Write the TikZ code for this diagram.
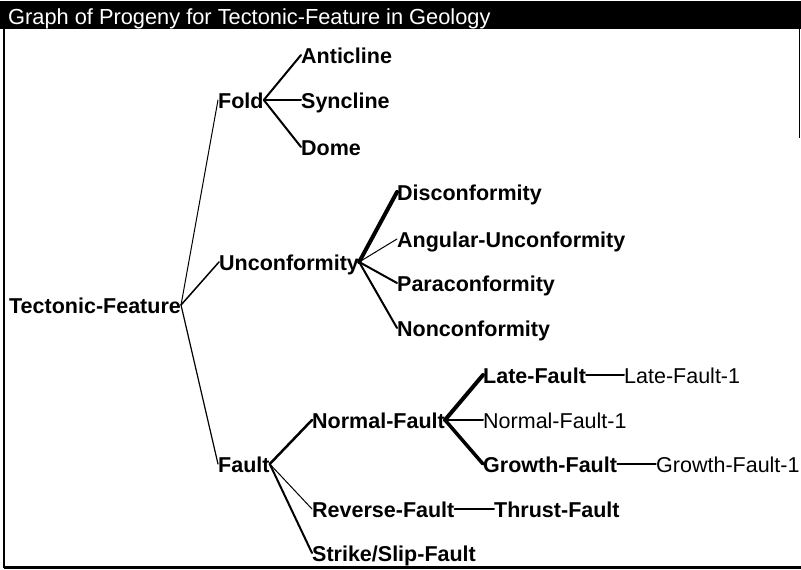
\documentclass[tikz,border=0pt]{standalone}
\usepackage{fontspec}
\setmainfont{Liberation Sans}
\begin{document}
\begin{tikzpicture}[x=1pt,y=-1pt,
  lbl/.style={inner sep=0pt, anchor=base west, text height=16pt, text depth=0pt,
    font=\fontsize{21.5}{24}\selectfont\bfseries},
  lblr/.style={lbl, font=\fontsize{21.5}{24}\selectfont},
  edge/.style={line width=#1, line cap=round},
]
\useasboundingbox (0,0) rectangle (801,570);
% window frame
\fill[black] (0,1) rectangle (801,29);
\node[inner sep=0pt, anchor=base west, text=white, font=\fontsize{21.8}{24}\selectfont] (title) at (8,24) {Graph of Progeny for Tectonic-Feature in Geology};
\coordinate (fl1) at (4,29);
\coordinate (fl2) at (4,568);
\coordinate (fb1) at (4,567.5);
\coordinate (fb2) at (801,567.5);
\coordinate (fr1) at (799,29);
\coordinate (fr2) at (799,138);
\draw[line width=2.5pt] (fl1) -- (fl2);
\draw[line width=3pt] (fb1) -- (fb2);
\draw[line width=1pt] (fr1) -- (fr2);
% nodes
\node[lbl] (tf) at (9,313) {Tectonic-Feature};
\node[lbl] (fold) at (218,108) {Fold};
\node[lbl] (unc) at (219,270) {Unconformity};
\node[lbl] (fault) at (218,472) {Fault};
\node[lbl] (anti) at (301,63) {Anticline};
\node[lbl] (sync) at (301,108) {Syncline};
\node[lbl] (dome) at (301,155) {Dome};
\node[lbl] (disc) at (397,200) {Disconformity};
\node[lbl] (ang) at (397,247) {Angular-Unconformity};
\node[lbl] (para) at (397,291) {Paraconformity};
\node[lbl] (nonc) at (397,336) {Nonconformity};
\node[lbl] (norm) at (312,428) {Normal-Fault};
\node[lbl] (rev) at (312,517) {Reverse-Fault};
\node[lbl] (strike) at (312,561) {Strike/Slip-Fault};
\node[lbl] (late) at (483,383) {Late-Fault};
\node[lblr] (norm1) at (483,428) {Normal-Fault-1};
\node[lbl] (grow) at (483,472) {Growth-Fault};
\node[lblr] (late1) at (624,383) {Late-Fault-1};
\node[lblr] (grow1) at (656,472) {Growth-Fault-1};
\node[lbl] (thrust) at (494,517) {Thrust-Fault};
% connectors
\draw[edge=1pt] (tf.east) -- (fold.west);
\draw[edge=1.5pt] (tf.east) -- (unc.west);
\draw[edge=1.2pt] (tf.east) -- (fault.west);
\draw[edge=2pt] (fold.east) -- (anti.west);
\draw[edge=2pt] (fold.east) -- (sync.west);
\draw[edge=2pt] (fold.east) -- (dome.west);
\draw[edge=4pt] (unc.east) -- (disc.west);
\draw[edge=1pt] (unc.east) -- (ang.west);
\draw[edge=2pt] (unc.east) -- (para.west);
\draw[edge=2pt] (unc.east) -- (nonc.west);
\draw[edge=2.5pt] (fault.east) -- (norm.west);
\draw[edge=1pt] (fault.east) -- (rev.west);
\draw[edge=2pt] (fault.east) -- (strike.west);
\draw[edge=4pt] (norm.east) -- (late.west);
\draw[edge=2pt] (norm.east) -- (norm1.west);
\draw[edge=3.5pt] (norm.east) -- (grow.west);
\draw[edge=2pt] (late.east) -- (late1.west);
\draw[edge=1.2pt] (grow.east) -- (grow1.west);
\draw[edge=2pt] (rev.east) -- (thrust.west);
\end{tikzpicture}
\end{document}
